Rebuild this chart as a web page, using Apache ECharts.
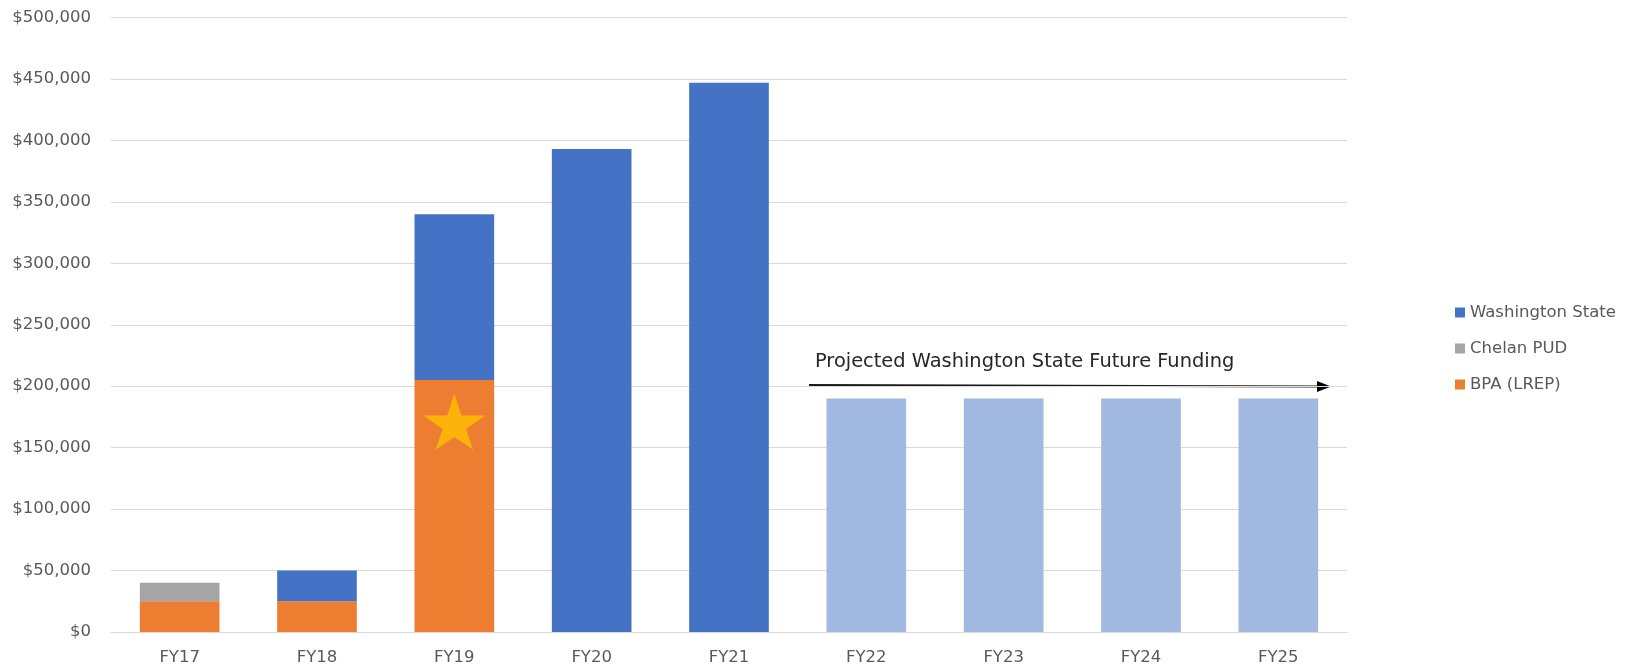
<!DOCTYPE html>
<html>
<head>
<meta charset="utf-8">
<script src="https://cdn.jsdelivr.net/npm/echarts@6/dist/echarts.min.js"></script>
<style>
  html, body { margin: 0; padding: 0; background: #fff; }
  #main { width: 1633px; height: 667px; }
</style>
</head>
<body>
<div id="main"></div>
<script>
// categories and values
var categories = ['FY17', 'FY18', 'FY19', 'FY20', 'FY21', 'FY22', 'FY23', 'FY24', 'FY25'];
var bpaLrep = [25000, 25000, 205000, null, null, null, null, null, null];
var chelanPud = [15000, null, null, null, null, null, null, null, null];
var washingtonState = [null, 25000, 135000, 393000, 447000, 190000, 190000, 190000, 190000];
var firstProjected = 5; // FY22 onwards is projected
var starAt = ['FY19', 171000];
var yTicks = [0, 50000, 100000, 150000, 200000, 250000, 300000, 350000, 400000, 450000, 500000];

var FONT = '"DejaVu Sans"';
var myChart = echarts.init(document.getElementById('main'));

// projected bars drawn lighter
var waData = washingtonState.map(function (v, i) {
    if (i >= firstProjected) {
        return { value: v, itemStyle: { color: '#a1b8e1' } };
    }
    return v;
});

var starPath = 'path://M50,0 L61,35 L98,35 L68,57 L79,91 L50,70 L21,91 L32,57 L2,35 L39,35 Z';

var option = {
    backgroundColor: '#ffffff',
    animation: false,
    grid: {
        left: 111,
        right: 286,
        top: 17.5,
        bottom: 35
    },
    legend: {
        orient: 'vertical',
        left: 1450,
        top: 299,
        itemWidth: 10,
        itemHeight: 10,
        itemGap: 19,
        icon: 'rect',
        textStyle: { color: '#595959', fontSize: 16.5, fontFamily: FONT },
        data: ['Washington State', 'Chelan PUD', 'BPA (LREP)']
    },
    xAxis: {
        type: 'category',
        data: categories,
        axisTick: { show: false },
        axisLine: { lineStyle: { color: '#d9d9d9', width: 1 } },
        axisLabel: { color: '#595959', fontSize: 16.5, fontFamily: FONT, margin: 17 }
    },
    yAxis: {
        type: 'value',
        min: yTicks[0],
        max: yTicks[yTicks.length - 1],
        interval: 50000,
        axisLine: { show: false },
        axisTick: { show: false },
        splitLine: { lineStyle: { color: '#d9d9d9', width: 1 } },
        axisLabel: {
            color: '#595959',
            fontSize: 16.5,
            fontFamily: FONT,
            margin: 20,
            formatter: function (v) {
                return '$' + v.toLocaleString('en-US');
            }
        }
    },
    series: [
        {
            name: 'BPA (LREP)',
            type: 'bar',
            stack: 'total',
            barWidth: '58%',
            itemStyle: { color: '#ed7d31' },
            data: bpaLrep
        },
        {
            name: 'Chelan PUD',
            type: 'bar',
            stack: 'total',
            itemStyle: { color: '#a5a5a5' },
            data: chelanPud
        },
        {
            name: 'Washington State',
            type: 'bar',
            stack: 'total',
            itemStyle: { color: '#4472c4' },
            data: waData
        },
        {
            name: 'star',
            type: 'scatter',
            symbol: starPath,
            symbolSize: [62, 56],
            z: 10,
            itemStyle: { color: '#ffc000' },
            data: [starAt]
        }
    ],
    graphic: [
        {
            type: 'text',
            left: 815,
            top: 352,
            style: {
                text: 'Projected Washington State Future Funding',
                fill: '#262626',
                font: '19.4px ' + FONT
            }
        },
        {
            type: 'line',
            shape: { x1: 809, y1: 385, x2: 1320, y2: 386.5 },
            style: { stroke: '#1a1a1a', lineWidth: 1.8 }
        },
        {
            type: 'polygon',
            shape: { points: [[1317, 381], [1331, 386.5], [1317, 392]] },
            style: { fill: '#000000' }
        }
    ]
};

myChart.setOption(option);
</script>
</body>
</html>
